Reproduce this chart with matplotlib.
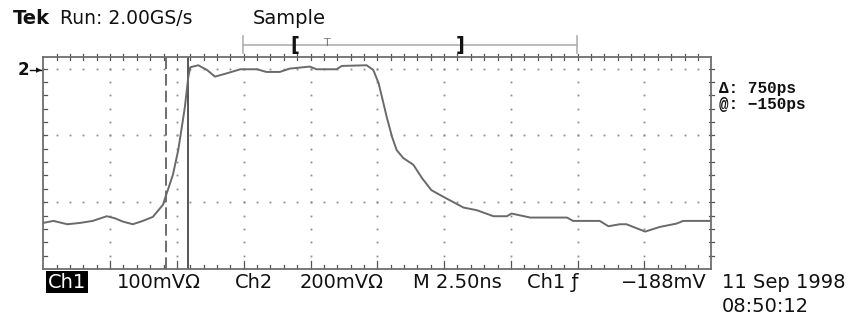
import matplotlib
matplotlib.use('Agg')
import numpy as np
import matplotlib.pyplot as plt
from matplotlib.lines import Line2D

plt.rcParams.update({'font.family': 'DejaVu Sans'})

W, H = 852, 322
INK = '#111111'
GRID = '#8c8c8c'
TRACE = '#6a6a6a'

# waveform, in graticule divisions (x: 2.5 ns/div)
t_div = [0.00, 0.15, 0.36, 0.55, 0.74, 0.95, 1.07, 1.19, 1.34, 1.49, 1.64, 1.79, 1.85, 1.94,
         2.02, 2.09, 2.12, 2.17, 2.20, 2.24, 2.32, 2.45, 2.57, 2.75, 2.95, 3.20, 3.34, 3.54,
         3.69, 3.99, 4.09, 4.39, 4.47, 4.84, 4.94, 5.02, 5.09, 5.14, 5.22, 5.29, 5.39, 5.54,
         5.67, 5.81, 5.99, 6.29, 6.49, 6.74, 6.94, 7.01, 7.29, 7.84, 7.93, 8.33, 8.46, 8.63,
         8.73, 9.01, 9.23, 9.48, 9.58, 10.0]
v_div = [0.69, 0.72, 0.67, 0.69, 0.72, 0.79, 0.76, 0.71, 0.67, 0.72, 0.78, 0.96, 1.14, 1.41,
         1.78, 2.23, 2.43, 2.87, 3.02, 3.03, 3.05, 2.98, 2.88, 2.93, 2.99, 2.99, 2.95, 2.95,
         3.00, 3.03, 2.99, 2.99, 3.04, 3.05, 2.98, 2.78, 2.49, 2.28, 1.98, 1.78, 1.66, 1.56,
         1.36, 1.18, 1.08, 0.92, 0.88, 0.79, 0.79, 0.83, 0.77, 0.77, 0.72, 0.72, 0.64, 0.67,
         0.67, 0.56, 0.63, 0.68, 0.72, 0.72]
cursors = [1.83, 2.16]

fig = plt.figure(figsize=(W / 100, H / 100), dpi=100)
fig.patch.set_facecolor('white')

L, R, T, B = 43.3, 711.3, 57, 269
ax = fig.add_axes([L / W, 1 - B / H, (R - L) / W, (B - T) / H])
ytop = (B - T) / ((R - L) / 10)
ax.set_xlim(0, 10)
ax.set_ylim(0, ytop)
ax.set_xticks([])
ax.set_yticks([])
for s in ax.spines.values():
    s.set_color('#6e6e6e')
    s.set_linewidth(1.3)

# dotted graticule
minor = np.arange(0, 10.01, 0.2)
for gx in range(1, 10):
    yy = np.arange(0, ytop, 0.2)
    ax.plot(np.full_like(yy, gx), yy, ls='none', marker='s', ms=1.3, color=GRID, mew=0)
for gy in (1, 2, 3):
    ax.plot(minor, np.full_like(minor, gy), ls='none', marker='s', ms=1.3, color=GRID, mew=0)

# border ticks
d = 0.04
for x in minor[1:-1]:
    ax.plot([x, x], [ytop - d, ytop + d], color='#555555', lw=0.9, clip_on=False)
    h = 0.12 if abs(x - round(x)) < 1e-6 else 0.06
    ax.plot([x, x], [0, h], color='#555555', lw=0.9)
for y in np.arange(0.2, ytop, 0.2):
    ax.plot([0, 0.06], [y, y], color='#555555', lw=0.9)
    ax.plot([10 - 0.04, 10 + 0.04], [y, y], color='#555555', lw=0.9, clip_on=False)

# cursors
ax.axvline(cursors[0], color='#555555', lw=1.2, dashes=(7, 3))
ax.axvline(cursors[1], color='#555555', lw=1.4)

# trace
ax.plot(t_div, v_div, color=TRACE, lw=1.4, solid_joinstyle='round')


def px(x, y):
    return x / W, 1 - y / H


def fline(xs, ys, **kw):
    fx = [x / W for x in xs]
    fy = [1 - y / H for y in ys]
    fig.add_artist(Line2D(fx, fy, **kw))


# record-length bar
fline([243.3, 576.7], [45, 45], color='#b0b0b0', lw=1.2)
fline([243.3, 243.3], [36, 53], color='#b0b0b0', lw=1.2)
fline([576.7, 576.7], [36, 53], color='#b0b0b0', lw=1.2)
fig.text(*px(295, 45), '[', ha='center', va='center', fontsize=14, weight='bold', color=INK)
fig.text(*px(460, 45), ']', ha='center', va='center', fontsize=14, weight='bold', color=INK)
fig.text(*px(327, 43), 'T', ha='center', va='center', fontsize=8, color='#777777')

# header
fig.text(*px(13, 19), 'Tek', ha='left', va='center', fontsize=14, weight='bold', color=INK)
fig.text(*px(60, 19), 'Run: 2.00GS/s', ha='left', va='center', fontsize=13.5, color=INK)
fig.text(*px(253, 19), 'Sample', ha='left', va='center', fontsize=14, color=INK)

# ground marker
fig.text(*px(18, 70), '2', ha='left', va='center', fontsize=12, weight='bold', color=INK)
fline([30, 41], [70, 70], color=INK, lw=1.0)
fig.text(*px(42, 70), '▸', ha='right', va='center', fontsize=8, color=INK)

# cursor readout
fig.text(*px(719, 88), 'Δ: 750ps', ha='left', va='center', fontsize=11.5,
         family='Liberation Mono', weight='bold', color=INK)
fig.text(*px(719, 105), '@: −150ps', ha='left', va='center', fontsize=11.5,
         family='Liberation Mono', weight='bold', color=INK)

# bottom status line
fs = 14
fig.text(*px(48, 282), 'Ch1', ha='left', va='center', fontsize=fs, color='white',
         bbox=dict(boxstyle='square,pad=0.08', fc='black', ec='none'))
fig.text(*px(117, 282), '100mVΩ', ha='left', va='center', fontsize=fs, color=INK)
fig.text(*px(235, 282), 'Ch2', ha='left', va='center', fontsize=fs, color=INK)
fig.text(*px(300, 282), '200mVΩ', ha='left', va='center', fontsize=fs, color=INK)
fig.text(*px(413, 282), 'M 2.50ns', ha='left', va='center', fontsize=fs, color=INK)
fig.text(*px(527, 282), 'Ch1 ƒ', ha='left', va='center', fontsize=fs, color=INK)
fig.text(*px(707, 282), '−188mV', ha='right', va='center', fontsize=fs, color=INK)
fig.text(*px(722, 283), '11 Sep 1998', ha='left', va='center', fontsize=fs, color=INK)
fig.text(*px(722, 307), '08:50:12', ha='left', va='center', fontsize=fs, color=INK)

fig.savefig('out.png', dpi=100)
